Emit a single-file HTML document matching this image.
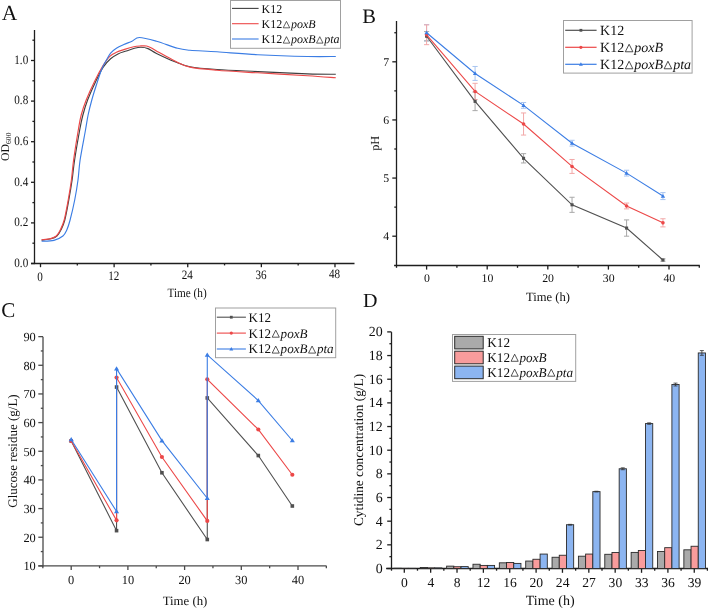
<!DOCTYPE html>
<html><head><meta charset="utf-8"><style>
html,body{margin:0;padding:0;background:#fff;}
svg{display:block;font-family:"Liberation Serif", serif;filter:blur(0.3px);}
text{text-rendering:geometricPrecision;}
</style></head><body>
<svg width="708" height="608" viewBox="0 0 708 608">
<rect x="0" y="0" width="708" height="608" fill="#fff"/>
<text x="1.80" y="19.80" font-size="21.5" text-anchor="start" fill="#111" >A</text>
<line x1="34.50" y1="30.00" x2="34.50" y2="264.10" stroke="#1e1e1e" stroke-width="1.3" stroke-linecap="butt"/>
<line x1="31.00" y1="263.50" x2="354.50" y2="263.50" stroke="#1e1e1e" stroke-width="1.3" stroke-linecap="butt"/>
<line x1="31.00" y1="263.50" x2="34.50" y2="263.50" stroke="#1e1e1e" stroke-width="1.3" stroke-linecap="butt"/>
<text transform="translate(28.20,266.70) scale(0.87,1)" x="0" y="0" font-size="12.8" text-anchor="end" fill="#111" >0.0</text>
<line x1="31.00" y1="222.90" x2="34.50" y2="222.90" stroke="#1e1e1e" stroke-width="1.3" stroke-linecap="butt"/>
<text transform="translate(28.20,226.10) scale(0.87,1)" x="0" y="0" font-size="12.8" text-anchor="end" fill="#111" >0.2</text>
<line x1="31.00" y1="182.30" x2="34.50" y2="182.30" stroke="#1e1e1e" stroke-width="1.3" stroke-linecap="butt"/>
<text transform="translate(28.20,185.50) scale(0.87,1)" x="0" y="0" font-size="12.8" text-anchor="end" fill="#111" >0.4</text>
<line x1="31.00" y1="141.70" x2="34.50" y2="141.70" stroke="#1e1e1e" stroke-width="1.3" stroke-linecap="butt"/>
<text transform="translate(28.20,144.90) scale(0.87,1)" x="0" y="0" font-size="12.8" text-anchor="end" fill="#111" >0.6</text>
<line x1="31.00" y1="101.10" x2="34.50" y2="101.10" stroke="#1e1e1e" stroke-width="1.3" stroke-linecap="butt"/>
<text transform="translate(28.20,104.30) scale(0.87,1)" x="0" y="0" font-size="12.8" text-anchor="end" fill="#111" >0.8</text>
<line x1="31.00" y1="60.50" x2="34.50" y2="60.50" stroke="#1e1e1e" stroke-width="1.3" stroke-linecap="butt"/>
<text transform="translate(28.20,63.70) scale(0.87,1)" x="0" y="0" font-size="12.8" text-anchor="end" fill="#111" >1.0</text>
<line x1="32.40" y1="243.20" x2="34.50" y2="243.20" stroke="#1e1e1e" stroke-width="1.3" stroke-linecap="butt"/>
<line x1="32.40" y1="202.60" x2="34.50" y2="202.60" stroke="#1e1e1e" stroke-width="1.3" stroke-linecap="butt"/>
<line x1="32.40" y1="162.00" x2="34.50" y2="162.00" stroke="#1e1e1e" stroke-width="1.3" stroke-linecap="butt"/>
<line x1="32.40" y1="121.40" x2="34.50" y2="121.40" stroke="#1e1e1e" stroke-width="1.3" stroke-linecap="butt"/>
<line x1="32.40" y1="80.80" x2="34.50" y2="80.80" stroke="#1e1e1e" stroke-width="1.3" stroke-linecap="butt"/>
<line x1="32.40" y1="40.20" x2="34.50" y2="40.20" stroke="#1e1e1e" stroke-width="1.3" stroke-linecap="butt"/>
<line x1="40.50" y1="263.50" x2="40.50" y2="267.20" stroke="#1e1e1e" stroke-width="1.3" stroke-linecap="butt"/>
<text transform="translate(40.10,280.60) scale(0.87,1)" x="0" y="0" font-size="12.8" text-anchor="middle" fill="#111" >0</text>
<line x1="114.12" y1="263.50" x2="114.12" y2="267.20" stroke="#1e1e1e" stroke-width="1.3" stroke-linecap="butt"/>
<text transform="translate(113.72,279.93) scale(0.87,1)" x="0" y="0" font-size="12.8" text-anchor="middle" fill="#111" >12</text>
<line x1="187.74" y1="263.50" x2="187.74" y2="267.20" stroke="#1e1e1e" stroke-width="1.3" stroke-linecap="butt"/>
<text transform="translate(187.34,279.25) scale(0.87,1)" x="0" y="0" font-size="12.8" text-anchor="middle" fill="#111" >24</text>
<line x1="261.36" y1="263.50" x2="261.36" y2="267.20" stroke="#1e1e1e" stroke-width="1.3" stroke-linecap="butt"/>
<text transform="translate(260.96,278.58) scale(0.87,1)" x="0" y="0" font-size="12.8" text-anchor="middle" fill="#111" >36</text>
<line x1="334.98" y1="263.50" x2="334.98" y2="267.20" stroke="#1e1e1e" stroke-width="1.3" stroke-linecap="butt"/>
<text transform="translate(334.58,277.90) scale(0.87,1)" x="0" y="0" font-size="12.8" text-anchor="middle" fill="#111" >48</text>
<line x1="77.31" y1="263.50" x2="77.31" y2="265.40" stroke="#1e1e1e" stroke-width="1.3" stroke-linecap="butt"/>
<line x1="150.93" y1="263.50" x2="150.93" y2="265.40" stroke="#1e1e1e" stroke-width="1.3" stroke-linecap="butt"/>
<line x1="224.55" y1="263.50" x2="224.55" y2="265.40" stroke="#1e1e1e" stroke-width="1.3" stroke-linecap="butt"/>
<line x1="298.17" y1="263.50" x2="298.17" y2="265.40" stroke="#1e1e1e" stroke-width="1.3" stroke-linecap="butt"/>
<text transform="translate(187.10,296.60) scale(0.88,1)" x="0" y="0" font-size="12.8" text-anchor="middle" fill="#111" >Time (h)</text>
<g transform="translate(9.0,161) rotate(-90)"><text x="0" y="0" font-size="11.8" fill="#111">OD<tspan font-size="7.6" dy="1.9">600</tspan></text></g>
<path d="M41.60,240.10 C43.17,239.88 48.45,239.48 51.00,238.80 C53.55,238.12 55.25,237.47 56.90,236.00 C58.55,234.53 59.58,232.67 60.90,230.00 C62.22,227.33 63.48,225.00 64.80,220.00 C66.12,215.00 67.58,206.67 68.80,200.00 C70.02,193.33 71.13,186.67 72.10,180.00 C73.07,173.33 73.33,168.33 74.60,160.00 C75.87,151.67 78.32,137.50 79.70,130.00 C81.08,122.50 81.58,120.00 82.90,115.00 C84.22,110.00 85.50,105.52 87.60,100.00 C89.70,94.48 92.90,87.38 95.50,81.90 C98.10,76.42 100.68,70.95 103.20,67.10 C105.72,63.25 108.13,61.00 110.60,58.80 C113.07,56.60 115.38,55.20 118.00,53.90 C120.62,52.60 123.55,51.93 126.30,51.00 C129.05,50.07 132.05,48.92 134.50,48.30 C136.95,47.68 138.75,47.25 141.00,47.30 C143.25,47.35 145.42,47.58 148.00,48.60 C150.58,49.62 152.02,51.22 156.50,53.40 C160.98,55.58 169.32,59.48 174.90,61.70 C180.48,63.92 182.98,65.40 190.00,66.70 C197.02,68.00 205.70,68.68 217.00,69.50 C228.30,70.32 242.72,70.87 257.80,71.60 C272.88,72.33 294.50,73.45 307.50,73.90 C320.50,74.35 331.08,74.23 335.80,74.30" fill="none" stroke="#404040" stroke-width="1.15"/>
<path d="M41.60,239.90 C43.12,239.68 48.25,239.25 50.70,238.60 C53.15,237.95 54.70,237.43 56.30,236.00 C57.90,234.57 58.98,232.67 60.30,230.00 C61.62,227.33 62.88,225.00 64.20,220.00 C65.52,215.00 67.00,206.67 68.20,200.00 C69.40,193.33 70.50,186.67 71.40,180.00 C72.30,173.33 72.45,168.33 73.60,160.00 C74.75,151.67 77.03,137.50 78.30,130.00 C79.57,122.50 79.88,120.00 81.20,115.00 C82.52,110.00 83.90,105.75 86.20,100.00 C88.50,94.25 92.17,86.27 95.00,80.50 C97.83,74.73 100.73,69.42 103.20,65.40 C105.67,61.38 107.60,58.58 109.80,56.40 C112.00,54.22 113.93,53.47 116.40,52.30 C118.87,51.13 121.72,50.32 124.60,49.40 C127.48,48.48 131.13,47.37 133.70,46.80 C136.27,46.23 137.85,46.13 140.00,46.00 C142.15,45.87 144.60,45.63 146.60,46.00 C148.60,46.37 149.88,47.10 152.00,48.20 C154.12,49.30 155.48,50.47 159.30,52.60 C163.12,54.73 169.78,58.58 174.90,61.00 C180.02,63.42 182.98,65.57 190.00,67.10 C197.02,68.63 205.70,69.25 217.00,70.20 C228.30,71.15 242.72,71.88 257.80,72.80 C272.88,73.72 294.50,74.88 307.50,75.70 C320.50,76.52 331.08,77.37 335.80,77.70" fill="none" stroke="#ec4848" stroke-width="1.15"/>
<path d="M41.60,241.20 C43.65,241.07 50.35,241.27 53.90,240.40 C57.45,239.53 60.75,237.73 62.90,236.00 C65.05,234.27 65.60,232.67 66.80,230.00 C68.00,227.33 68.78,225.00 70.10,220.00 C71.42,215.00 73.38,206.67 74.70,200.00 C76.02,193.33 77.10,186.67 78.00,180.00 C78.90,173.33 78.85,168.33 80.10,160.00 C81.35,151.67 84.17,137.50 85.50,130.00 C86.83,122.50 87.05,120.00 88.10,115.00 C89.15,110.00 90.38,105.12 91.80,100.00 C93.22,94.88 94.97,89.38 96.60,84.30 C98.23,79.22 100.08,73.33 101.60,69.50 C103.12,65.67 104.20,64.03 105.70,61.30 C107.20,58.57 108.82,55.28 110.60,53.10 C112.38,50.92 114.20,49.63 116.40,48.20 C118.60,46.77 121.20,45.67 123.80,44.50 C126.40,43.33 129.40,42.37 132.00,41.20 C134.60,40.03 135.32,37.50 139.40,37.50 C143.48,37.50 150.12,39.40 156.50,41.20 C162.88,43.00 172.12,46.80 177.70,48.30 C183.28,49.80 183.45,49.62 190.00,50.20 C196.55,50.78 205.70,51.05 217.00,51.80 C228.30,52.55 242.72,53.92 257.80,54.70 C272.88,55.48 294.50,56.20 307.50,56.50 C320.50,56.80 331.08,56.50 335.80,56.50" fill="none" stroke="#3b7de4" stroke-width="1.15"/>
<rect x="230.5" y="0.5" width="110" height="47.8" fill="none" stroke="#a0a0a0" stroke-width="1"/>
<line x1="232.00" y1="8.40" x2="258.60" y2="8.40" stroke="#404040" stroke-width="1.1" stroke-linecap="butt"/>
<text x="261.60" y="12.80" font-size="12.0" text-anchor="start" fill="#111" >K12</text>
<line x1="232.00" y1="23.70" x2="258.60" y2="23.70" stroke="#ec4848" stroke-width="1.1" stroke-linecap="butt"/>
<text x="261.60" y="28.10" font-size="12.0" text-anchor="start" fill="#111" >K12</text>
<path d="M283.21,27.82 L286.46,21.38 L289.72,27.82 Z" fill="none" stroke="#222" stroke-width="0.70" stroke-linejoin="miter"/>
<text x="290.90" y="28.10" font-size="12.0" text-anchor="start" fill="#111" font-style="italic">poxB</text>
<line x1="232.00" y1="39.00" x2="258.60" y2="39.00" stroke="#3b7de4" stroke-width="1.1" stroke-linecap="butt"/>
<text x="261.60" y="43.40" font-size="12.0" text-anchor="start" fill="#111" >K12</text>
<path d="M283.21,43.12 L286.46,36.68 L289.72,43.12 Z" fill="none" stroke="#222" stroke-width="0.70" stroke-linejoin="miter"/>
<text x="290.90" y="43.40" font-size="12.0" text-anchor="start" fill="#111" font-style="italic">poxB</text>
<path d="M316.51,43.12 L319.76,36.68 L323.01,43.12 Z" fill="none" stroke="#222" stroke-width="0.70" stroke-linejoin="miter"/>
<text x="324.20" y="43.40" font-size="12.0" text-anchor="start" fill="#111" font-style="italic">pta</text>
<text x="362.30" y="23.20" font-size="20.5" text-anchor="start" fill="#111" >B</text>
<line x1="396.50" y1="21.00" x2="396.50" y2="267.80" stroke="#1e1e1e" stroke-width="1.3" stroke-linecap="butt"/>
<line x1="394.10" y1="265.50" x2="699.80" y2="265.50" stroke="#1e1e1e" stroke-width="1.3" stroke-linecap="butt"/>
<line x1="392.30" y1="236.20" x2="396.50" y2="236.20" stroke="#1e1e1e" stroke-width="1.3" stroke-linecap="butt"/>
<text x="389.20" y="240.20" font-size="11.8" text-anchor="end" fill="#111" >4</text>
<line x1="392.30" y1="178.07" x2="396.50" y2="178.07" stroke="#1e1e1e" stroke-width="1.3" stroke-linecap="butt"/>
<text x="389.20" y="182.07" font-size="11.8" text-anchor="end" fill="#111" >5</text>
<line x1="392.30" y1="119.94" x2="396.50" y2="119.94" stroke="#1e1e1e" stroke-width="1.3" stroke-linecap="butt"/>
<text x="389.20" y="123.94" font-size="11.8" text-anchor="end" fill="#111" >6</text>
<line x1="392.30" y1="61.81" x2="396.50" y2="61.81" stroke="#1e1e1e" stroke-width="1.3" stroke-linecap="butt"/>
<text x="389.20" y="65.81" font-size="11.8" text-anchor="end" fill="#111" >7</text>
<line x1="394.30" y1="207.13" x2="396.50" y2="207.13" stroke="#1e1e1e" stroke-width="1.3" stroke-linecap="butt"/>
<line x1="394.30" y1="149.00" x2="396.50" y2="149.00" stroke="#1e1e1e" stroke-width="1.3" stroke-linecap="butt"/>
<line x1="394.30" y1="90.87" x2="396.50" y2="90.87" stroke="#1e1e1e" stroke-width="1.3" stroke-linecap="butt"/>
<line x1="394.30" y1="32.74" x2="396.50" y2="32.74" stroke="#1e1e1e" stroke-width="1.3" stroke-linecap="butt"/>
<line x1="426.60" y1="265.50" x2="426.60" y2="269.60" stroke="#1e1e1e" stroke-width="1.3" stroke-linecap="butt"/>
<text x="426.90" y="282.00" font-size="11.8" text-anchor="middle" fill="#111" >0</text>
<line x1="487.20" y1="265.50" x2="487.20" y2="269.60" stroke="#1e1e1e" stroke-width="1.3" stroke-linecap="butt"/>
<text x="487.50" y="282.00" font-size="11.8" text-anchor="middle" fill="#111" >10</text>
<line x1="547.80" y1="265.50" x2="547.80" y2="269.60" stroke="#1e1e1e" stroke-width="1.3" stroke-linecap="butt"/>
<text x="548.10" y="282.00" font-size="11.8" text-anchor="middle" fill="#111" >20</text>
<line x1="608.40" y1="265.50" x2="608.40" y2="269.60" stroke="#1e1e1e" stroke-width="1.3" stroke-linecap="butt"/>
<text x="608.70" y="282.00" font-size="11.8" text-anchor="middle" fill="#111" >30</text>
<line x1="669.00" y1="265.50" x2="669.00" y2="269.60" stroke="#1e1e1e" stroke-width="1.3" stroke-linecap="butt"/>
<text x="669.30" y="282.00" font-size="11.8" text-anchor="middle" fill="#111" >40</text>
<line x1="456.90" y1="265.50" x2="456.90" y2="267.80" stroke="#1e1e1e" stroke-width="1.3" stroke-linecap="butt"/>
<line x1="517.50" y1="265.50" x2="517.50" y2="267.80" stroke="#1e1e1e" stroke-width="1.3" stroke-linecap="butt"/>
<line x1="578.10" y1="265.50" x2="578.10" y2="267.80" stroke="#1e1e1e" stroke-width="1.3" stroke-linecap="butt"/>
<line x1="638.70" y1="265.50" x2="638.70" y2="267.80" stroke="#1e1e1e" stroke-width="1.3" stroke-linecap="butt"/>
<line x1="699.30" y1="265.50" x2="699.30" y2="267.80" stroke="#1e1e1e" stroke-width="1.3" stroke-linecap="butt"/>
<text x="548.00" y="301.40" font-size="12.6" text-anchor="middle" fill="#111" >Time (h)</text>
<g transform="translate(379.3,143.3) rotate(-90)"><text x="0" y="0" font-size="12.3" text-anchor="middle" fill="#111">pH</text></g>
<line x1="426.60" y1="24.61" x2="426.60" y2="40.88" stroke="#a8c4f0" stroke-width="1.0" stroke-linecap="butt"/>
<line x1="424.00" y1="24.61" x2="429.20" y2="24.61" stroke="#a8c4f0" stroke-width="1.0" stroke-linecap="butt"/>
<line x1="424.00" y1="40.88" x2="429.20" y2="40.88" stroke="#a8c4f0" stroke-width="1.0" stroke-linecap="butt"/>
<line x1="475.08" y1="66.46" x2="475.08" y2="80.41" stroke="#a8c4f0" stroke-width="1.0" stroke-linecap="butt"/>
<line x1="472.48" y1="66.46" x2="477.68" y2="66.46" stroke="#a8c4f0" stroke-width="1.0" stroke-linecap="butt"/>
<line x1="472.48" y1="80.41" x2="477.68" y2="80.41" stroke="#a8c4f0" stroke-width="1.0" stroke-linecap="butt"/>
<line x1="523.56" y1="102.50" x2="523.56" y2="108.31" stroke="#a8c4f0" stroke-width="1.0" stroke-linecap="butt"/>
<line x1="520.96" y1="102.50" x2="526.16" y2="102.50" stroke="#a8c4f0" stroke-width="1.0" stroke-linecap="butt"/>
<line x1="520.96" y1="108.31" x2="526.16" y2="108.31" stroke="#a8c4f0" stroke-width="1.0" stroke-linecap="butt"/>
<line x1="572.04" y1="140.29" x2="572.04" y2="146.10" stroke="#a8c4f0" stroke-width="1.0" stroke-linecap="butt"/>
<line x1="569.44" y1="140.29" x2="574.64" y2="140.29" stroke="#a8c4f0" stroke-width="1.0" stroke-linecap="butt"/>
<line x1="569.44" y1="146.10" x2="574.64" y2="146.10" stroke="#a8c4f0" stroke-width="1.0" stroke-linecap="butt"/>
<line x1="626.58" y1="170.22" x2="626.58" y2="176.04" stroke="#a8c4f0" stroke-width="1.0" stroke-linecap="butt"/>
<line x1="623.98" y1="170.22" x2="629.18" y2="170.22" stroke="#a8c4f0" stroke-width="1.0" stroke-linecap="butt"/>
<line x1="623.98" y1="176.04" x2="629.18" y2="176.04" stroke="#a8c4f0" stroke-width="1.0" stroke-linecap="butt"/>
<line x1="662.94" y1="192.60" x2="662.94" y2="199.58" stroke="#a8c4f0" stroke-width="1.0" stroke-linecap="butt"/>
<line x1="660.34" y1="192.60" x2="665.54" y2="192.60" stroke="#a8c4f0" stroke-width="1.0" stroke-linecap="butt"/>
<line x1="660.34" y1="199.58" x2="665.54" y2="199.58" stroke="#a8c4f0" stroke-width="1.0" stroke-linecap="butt"/>
<line x1="426.60" y1="31.58" x2="426.60" y2="40.88" stroke="#a8a8a8" stroke-width="1.0" stroke-linecap="butt"/>
<line x1="424.00" y1="31.58" x2="429.20" y2="31.58" stroke="#a8a8a8" stroke-width="1.0" stroke-linecap="butt"/>
<line x1="424.00" y1="40.88" x2="429.20" y2="40.88" stroke="#a8a8a8" stroke-width="1.0" stroke-linecap="butt"/>
<line x1="475.08" y1="92.04" x2="475.08" y2="110.64" stroke="#a8a8a8" stroke-width="1.0" stroke-linecap="butt"/>
<line x1="472.48" y1="92.04" x2="477.68" y2="92.04" stroke="#a8a8a8" stroke-width="1.0" stroke-linecap="butt"/>
<line x1="472.48" y1="110.64" x2="477.68" y2="110.64" stroke="#a8a8a8" stroke-width="1.0" stroke-linecap="butt"/>
<line x1="523.56" y1="153.66" x2="523.56" y2="162.96" stroke="#a8a8a8" stroke-width="1.0" stroke-linecap="butt"/>
<line x1="520.96" y1="153.66" x2="526.16" y2="153.66" stroke="#a8a8a8" stroke-width="1.0" stroke-linecap="butt"/>
<line x1="520.96" y1="162.96" x2="526.16" y2="162.96" stroke="#a8a8a8" stroke-width="1.0" stroke-linecap="butt"/>
<line x1="572.04" y1="197.25" x2="572.04" y2="212.37" stroke="#a8a8a8" stroke-width="1.0" stroke-linecap="butt"/>
<line x1="569.44" y1="197.25" x2="574.64" y2="197.25" stroke="#a8a8a8" stroke-width="1.0" stroke-linecap="butt"/>
<line x1="569.44" y1="212.37" x2="574.64" y2="212.37" stroke="#a8a8a8" stroke-width="1.0" stroke-linecap="butt"/>
<line x1="626.58" y1="219.92" x2="626.58" y2="236.20" stroke="#a8a8a8" stroke-width="1.0" stroke-linecap="butt"/>
<line x1="623.98" y1="219.92" x2="629.18" y2="219.92" stroke="#a8a8a8" stroke-width="1.0" stroke-linecap="butt"/>
<line x1="623.98" y1="236.20" x2="629.18" y2="236.20" stroke="#a8a8a8" stroke-width="1.0" stroke-linecap="butt"/>
<line x1="662.94" y1="258.87" x2="662.94" y2="261.20" stroke="#a8a8a8" stroke-width="1.0" stroke-linecap="butt"/>
<line x1="660.34" y1="258.87" x2="665.54" y2="258.87" stroke="#a8a8a8" stroke-width="1.0" stroke-linecap="butt"/>
<line x1="660.34" y1="261.20" x2="665.54" y2="261.20" stroke="#a8a8a8" stroke-width="1.0" stroke-linecap="butt"/>
<line x1="426.60" y1="24.90" x2="426.60" y2="44.66" stroke="#f2a8a8" stroke-width="1.0" stroke-linecap="butt"/>
<line x1="424.00" y1="24.90" x2="429.20" y2="24.90" stroke="#f2a8a8" stroke-width="1.0" stroke-linecap="butt"/>
<line x1="424.00" y1="44.66" x2="429.20" y2="44.66" stroke="#f2a8a8" stroke-width="1.0" stroke-linecap="butt"/>
<line x1="475.08" y1="83.32" x2="475.08" y2="99.59" stroke="#f2a8a8" stroke-width="1.0" stroke-linecap="butt"/>
<line x1="472.48" y1="83.32" x2="477.68" y2="83.32" stroke="#f2a8a8" stroke-width="1.0" stroke-linecap="butt"/>
<line x1="472.48" y1="99.59" x2="477.68" y2="99.59" stroke="#f2a8a8" stroke-width="1.0" stroke-linecap="butt"/>
<line x1="523.56" y1="112.96" x2="523.56" y2="135.05" stroke="#f2a8a8" stroke-width="1.0" stroke-linecap="butt"/>
<line x1="520.96" y1="112.96" x2="526.16" y2="112.96" stroke="#f2a8a8" stroke-width="1.0" stroke-linecap="butt"/>
<line x1="520.96" y1="135.05" x2="526.16" y2="135.05" stroke="#f2a8a8" stroke-width="1.0" stroke-linecap="butt"/>
<line x1="572.04" y1="159.47" x2="572.04" y2="173.42" stroke="#f2a8a8" stroke-width="1.0" stroke-linecap="butt"/>
<line x1="569.44" y1="159.47" x2="574.64" y2="159.47" stroke="#f2a8a8" stroke-width="1.0" stroke-linecap="butt"/>
<line x1="569.44" y1="173.42" x2="574.64" y2="173.42" stroke="#f2a8a8" stroke-width="1.0" stroke-linecap="butt"/>
<line x1="626.58" y1="203.07" x2="626.58" y2="208.88" stroke="#f2a8a8" stroke-width="1.0" stroke-linecap="butt"/>
<line x1="623.98" y1="203.07" x2="629.18" y2="203.07" stroke="#f2a8a8" stroke-width="1.0" stroke-linecap="butt"/>
<line x1="623.98" y1="208.88" x2="629.18" y2="208.88" stroke="#f2a8a8" stroke-width="1.0" stroke-linecap="butt"/>
<line x1="662.94" y1="218.76" x2="662.94" y2="226.90" stroke="#f2a8a8" stroke-width="1.0" stroke-linecap="butt"/>
<line x1="660.34" y1="218.76" x2="665.54" y2="218.76" stroke="#f2a8a8" stroke-width="1.0" stroke-linecap="butt"/>
<line x1="660.34" y1="226.90" x2="665.54" y2="226.90" stroke="#f2a8a8" stroke-width="1.0" stroke-linecap="butt"/>
<polyline points="426.60,36.23 475.08,101.34 523.56,158.31 572.04,204.81 626.58,228.06 662.94,260.03" fill="none" stroke="#505050" stroke-width="1.1"/>
<rect x="425.05" y="34.68" width="3.10" height="3.10" fill="#505050"/>
<rect x="473.53" y="99.79" width="3.10" height="3.10" fill="#505050"/>
<rect x="522.01" y="156.76" width="3.10" height="3.10" fill="#505050"/>
<rect x="570.49" y="203.26" width="3.10" height="3.10" fill="#505050"/>
<rect x="625.03" y="226.51" width="3.10" height="3.10" fill="#505050"/>
<rect x="661.39" y="258.48" width="3.10" height="3.10" fill="#505050"/>
<polyline points="426.60,34.78 475.08,91.46 523.56,124.01 572.04,166.44 626.58,205.97 662.94,222.83" fill="none" stroke="#ec4848" stroke-width="1.1"/>
<circle cx="426.60" cy="34.78" r="1.80" fill="#ec4848"/>
<circle cx="475.08" cy="91.46" r="1.80" fill="#ec4848"/>
<circle cx="523.56" cy="124.01" r="1.80" fill="#ec4848"/>
<circle cx="572.04" cy="166.44" r="1.80" fill="#ec4848"/>
<circle cx="626.58" cy="205.97" r="1.80" fill="#ec4848"/>
<circle cx="662.94" cy="222.83" r="1.80" fill="#ec4848"/>
<polyline points="426.60,32.74 475.08,73.44 523.56,105.41 572.04,143.19 626.58,173.13 662.94,196.09" fill="none" stroke="#3b7de4" stroke-width="1.1"/>
<path d="M424.43,34.31 L426.60,30.57 L428.77,34.31 Z" fill="#3b7de4"/>
<path d="M472.91,75.00 L475.08,71.27 L477.25,75.00 Z" fill="#3b7de4"/>
<path d="M521.39,106.97 L523.56,103.24 L525.73,106.97 Z" fill="#3b7de4"/>
<path d="M569.87,144.75 L572.04,141.02 L574.21,144.75 Z" fill="#3b7de4"/>
<path d="M624.41,174.69 L626.58,170.96 L628.75,174.69 Z" fill="#3b7de4"/>
<path d="M660.77,197.65 L662.94,193.92 L665.11,197.65 Z" fill="#3b7de4"/>
<rect x="563.5" y="20.5" width="128.6" height="52.6" fill="none" stroke="#a0a0a0" stroke-width="1"/>
<line x1="565.20" y1="30.30" x2="596.60" y2="30.30" stroke="#505050" stroke-width="1.2" stroke-linecap="butt"/>
<rect x="579.50" y="28.90" width="2.80" height="2.80" fill="#505050"/>
<text x="600.10" y="35.10" font-size="14.0" text-anchor="start" fill="#111" >K12</text>
<line x1="565.20" y1="47.30" x2="596.60" y2="47.30" stroke="#ec4848" stroke-width="1.2" stroke-linecap="butt"/>
<circle cx="580.90" cy="47.30" r="1.62" fill="#ec4848"/>
<text x="600.10" y="52.10" font-size="14.0" text-anchor="start" fill="#111" >K12</text>
<path d="M625.31,51.78 L629.11,44.26 L632.90,51.78 Z" fill="none" stroke="#222" stroke-width="0.81" stroke-linejoin="miter"/>
<text x="634.29" y="52.10" font-size="14.0" text-anchor="start" fill="#111" font-style="italic">poxB</text>
<line x1="565.20" y1="64.30" x2="596.60" y2="64.30" stroke="#3b7de4" stroke-width="1.2" stroke-linecap="butt"/>
<path d="M578.94,65.71 L580.90,62.34 L582.86,65.71 Z" fill="#3b7de4"/>
<text x="600.10" y="69.10" font-size="14.0" text-anchor="start" fill="#111" >K12</text>
<path d="M625.31,68.78 L629.11,61.26 L632.90,68.78 Z" fill="none" stroke="#222" stroke-width="0.81" stroke-linejoin="miter"/>
<text x="634.29" y="69.10" font-size="14.0" text-anchor="start" fill="#111" font-style="italic">poxB</text>
<path d="M664.16,68.78 L667.95,61.26 L671.75,68.78 Z" fill="none" stroke="#222" stroke-width="0.81" stroke-linejoin="miter"/>
<text x="673.13" y="69.10" font-size="14.0" text-anchor="start" fill="#111" font-style="italic">pta</text>
<text x="1.30" y="317.20" font-size="21" text-anchor="start" fill="#111" >C</text>
<line x1="43.00" y1="336.70" x2="43.00" y2="566.60" stroke="#4a4a4a" stroke-width="1.3" stroke-linecap="butt"/>
<line x1="38.30" y1="565.90" x2="326.60" y2="565.90" stroke="#4a4a4a" stroke-width="1.3" stroke-linecap="butt"/>
<line x1="38.30" y1="565.90" x2="43.00" y2="565.90" stroke="#4a4a4a" stroke-width="1.3" stroke-linecap="butt"/>
<text x="35.80" y="570.20" font-size="12.4" text-anchor="end" fill="#111" >10</text>
<line x1="38.30" y1="537.24" x2="43.00" y2="537.24" stroke="#4a4a4a" stroke-width="1.3" stroke-linecap="butt"/>
<text x="35.80" y="541.54" font-size="12.4" text-anchor="end" fill="#111" >20</text>
<line x1="38.30" y1="508.58" x2="43.00" y2="508.58" stroke="#4a4a4a" stroke-width="1.3" stroke-linecap="butt"/>
<text x="35.80" y="512.88" font-size="12.4" text-anchor="end" fill="#111" >30</text>
<line x1="38.30" y1="479.92" x2="43.00" y2="479.92" stroke="#4a4a4a" stroke-width="1.3" stroke-linecap="butt"/>
<text x="35.80" y="484.22" font-size="12.4" text-anchor="end" fill="#111" >40</text>
<line x1="38.30" y1="451.26" x2="43.00" y2="451.26" stroke="#4a4a4a" stroke-width="1.3" stroke-linecap="butt"/>
<text x="35.80" y="455.56" font-size="12.4" text-anchor="end" fill="#111" >50</text>
<line x1="38.30" y1="422.60" x2="43.00" y2="422.60" stroke="#4a4a4a" stroke-width="1.3" stroke-linecap="butt"/>
<text x="35.80" y="426.90" font-size="12.4" text-anchor="end" fill="#111" >60</text>
<line x1="38.30" y1="393.94" x2="43.00" y2="393.94" stroke="#4a4a4a" stroke-width="1.3" stroke-linecap="butt"/>
<text x="35.80" y="398.24" font-size="12.4" text-anchor="end" fill="#111" >70</text>
<line x1="38.30" y1="365.28" x2="43.00" y2="365.28" stroke="#4a4a4a" stroke-width="1.3" stroke-linecap="butt"/>
<text x="35.80" y="369.58" font-size="12.4" text-anchor="end" fill="#111" >80</text>
<line x1="38.30" y1="336.62" x2="43.00" y2="336.62" stroke="#4a4a4a" stroke-width="1.3" stroke-linecap="butt"/>
<text x="35.80" y="340.92" font-size="12.4" text-anchor="end" fill="#111" >90</text>
<line x1="40.80" y1="551.57" x2="43.00" y2="551.57" stroke="#4a4a4a" stroke-width="1.3" stroke-linecap="butt"/>
<line x1="40.80" y1="522.91" x2="43.00" y2="522.91" stroke="#4a4a4a" stroke-width="1.3" stroke-linecap="butt"/>
<line x1="40.80" y1="494.25" x2="43.00" y2="494.25" stroke="#4a4a4a" stroke-width="1.3" stroke-linecap="butt"/>
<line x1="40.80" y1="465.59" x2="43.00" y2="465.59" stroke="#4a4a4a" stroke-width="1.3" stroke-linecap="butt"/>
<line x1="40.80" y1="436.93" x2="43.00" y2="436.93" stroke="#4a4a4a" stroke-width="1.3" stroke-linecap="butt"/>
<line x1="40.80" y1="408.27" x2="43.00" y2="408.27" stroke="#4a4a4a" stroke-width="1.3" stroke-linecap="butt"/>
<line x1="40.80" y1="379.61" x2="43.00" y2="379.61" stroke="#4a4a4a" stroke-width="1.3" stroke-linecap="butt"/>
<line x1="40.80" y1="350.95" x2="43.00" y2="350.95" stroke="#4a4a4a" stroke-width="1.3" stroke-linecap="butt"/>
<line x1="71.20" y1="565.90" x2="71.20" y2="570.00" stroke="#4a4a4a" stroke-width="1.3" stroke-linecap="butt"/>
<text x="71.20" y="583.80" font-size="12.4" text-anchor="middle" fill="#111" >0</text>
<line x1="127.90" y1="565.90" x2="127.90" y2="570.00" stroke="#4a4a4a" stroke-width="1.3" stroke-linecap="butt"/>
<text x="127.90" y="583.80" font-size="12.4" text-anchor="middle" fill="#111" >10</text>
<line x1="184.60" y1="565.90" x2="184.60" y2="570.00" stroke="#4a4a4a" stroke-width="1.3" stroke-linecap="butt"/>
<text x="184.60" y="583.80" font-size="12.4" text-anchor="middle" fill="#111" >20</text>
<line x1="241.30" y1="565.90" x2="241.30" y2="570.00" stroke="#4a4a4a" stroke-width="1.3" stroke-linecap="butt"/>
<text x="241.30" y="583.80" font-size="12.4" text-anchor="middle" fill="#111" >30</text>
<line x1="298.00" y1="565.90" x2="298.00" y2="570.00" stroke="#4a4a4a" stroke-width="1.3" stroke-linecap="butt"/>
<text x="298.00" y="583.80" font-size="12.4" text-anchor="middle" fill="#111" >40</text>
<line x1="42.85" y1="565.90" x2="42.85" y2="568.20" stroke="#4a4a4a" stroke-width="1.3" stroke-linecap="butt"/>
<line x1="99.55" y1="565.90" x2="99.55" y2="568.20" stroke="#4a4a4a" stroke-width="1.3" stroke-linecap="butt"/>
<line x1="156.25" y1="565.90" x2="156.25" y2="568.20" stroke="#4a4a4a" stroke-width="1.3" stroke-linecap="butt"/>
<line x1="212.95" y1="565.90" x2="212.95" y2="568.20" stroke="#4a4a4a" stroke-width="1.3" stroke-linecap="butt"/>
<line x1="269.65" y1="565.90" x2="269.65" y2="568.20" stroke="#4a4a4a" stroke-width="1.3" stroke-linecap="butt"/>
<line x1="326.35" y1="565.90" x2="326.35" y2="568.20" stroke="#4a4a4a" stroke-width="1.3" stroke-linecap="butt"/>
<text x="185.00" y="604.60" font-size="12.8" text-anchor="middle" fill="#111" >Time (h)</text>
<g transform="translate(17.4,451) rotate(-90)"><text x="0" y="0" font-size="13" text-anchor="middle" fill="#111">Glucose residue (g/L)</text></g>
<polyline points="71.20,440.94 116.56,530.65 116.56,387.06 161.92,472.75 207.28,539.53 207.28,397.95 258.31,455.56 292.33,506.00" fill="none" stroke="#505050" stroke-width="1.1"/>
<rect x="69.40" y="439.14" width="3.60" height="3.60" fill="#505050"/>
<rect x="114.76" y="528.85" width="3.60" height="3.60" fill="#505050"/>
<rect x="114.76" y="385.26" width="3.60" height="3.60" fill="#505050"/>
<rect x="160.12" y="470.95" width="3.60" height="3.60" fill="#505050"/>
<rect x="205.48" y="537.73" width="3.60" height="3.60" fill="#505050"/>
<rect x="205.48" y="396.15" width="3.60" height="3.60" fill="#505050"/>
<rect x="256.51" y="453.76" width="3.60" height="3.60" fill="#505050"/>
<rect x="290.53" y="504.20" width="3.60" height="3.60" fill="#505050"/>
<polyline points="71.20,440.94 116.56,520.33 116.56,377.60 161.92,456.99 207.28,520.90 207.28,379.32 258.31,429.48 292.33,474.76" fill="none" stroke="#ec4848" stroke-width="1.1"/>
<circle cx="71.20" cy="440.94" r="2.09" fill="#ec4848"/>
<circle cx="116.56" cy="520.33" r="2.09" fill="#ec4848"/>
<circle cx="116.56" cy="377.60" r="2.09" fill="#ec4848"/>
<circle cx="161.92" cy="456.99" r="2.09" fill="#ec4848"/>
<circle cx="207.28" cy="520.90" r="2.09" fill="#ec4848"/>
<circle cx="207.28" cy="379.32" r="2.09" fill="#ec4848"/>
<circle cx="258.31" cy="429.48" r="2.09" fill="#ec4848"/>
<circle cx="292.33" cy="474.76" r="2.09" fill="#ec4848"/>
<polyline points="71.20,439.51 116.56,511.45 116.56,368.72 161.92,440.66 207.28,498.26 207.28,354.96 258.31,400.53 292.33,440.51" fill="none" stroke="#3b7de4" stroke-width="1.1"/>
<path d="M68.68,441.32 L71.20,436.99 L73.72,441.32 Z" fill="#3b7de4"/>
<path d="M114.04,513.26 L116.56,508.93 L119.08,513.26 Z" fill="#3b7de4"/>
<path d="M114.04,370.53 L116.56,366.20 L119.08,370.53 Z" fill="#3b7de4"/>
<path d="M159.40,442.47 L161.92,438.14 L164.44,442.47 Z" fill="#3b7de4"/>
<path d="M204.76,500.08 L207.28,495.74 L209.80,500.08 Z" fill="#3b7de4"/>
<path d="M204.76,356.78 L207.28,352.44 L209.80,356.78 Z" fill="#3b7de4"/>
<path d="M255.79,402.35 L258.31,398.01 L260.83,402.35 Z" fill="#3b7de4"/>
<path d="M289.81,442.33 L292.33,437.99 L294.85,442.33 Z" fill="#3b7de4"/>
<rect x="215.5" y="308.0" width="120.2" height="49.7" fill="none" stroke="#a0a0a0" stroke-width="1"/>
<line x1="216.80" y1="317.20" x2="245.90" y2="317.20" stroke="#505050" stroke-width="1.1" stroke-linecap="butt"/>
<rect x="229.90" y="315.80" width="2.80" height="2.80" fill="#505050"/>
<text x="248.60" y="321.60" font-size="13.1" text-anchor="start" fill="#111" >K12</text>
<line x1="216.80" y1="333.10" x2="245.90" y2="333.10" stroke="#ec4848" stroke-width="1.1" stroke-linecap="butt"/>
<circle cx="231.30" cy="333.10" r="1.62" fill="#ec4848"/>
<text x="248.60" y="337.50" font-size="13.1" text-anchor="start" fill="#111" >K12</text>
<path d="M272.19,337.20 L275.74,330.16 L279.29,337.20 Z" fill="none" stroke="#222" stroke-width="0.76" stroke-linejoin="miter"/>
<text x="280.59" y="337.50" font-size="13.1" text-anchor="start" fill="#111" font-style="italic">poxB</text>
<line x1="216.80" y1="349.00" x2="245.90" y2="349.00" stroke="#3b7de4" stroke-width="1.1" stroke-linecap="butt"/>
<path d="M229.34,350.41 L231.30,347.04 L233.26,350.41 Z" fill="#3b7de4"/>
<text x="248.60" y="353.40" font-size="13.1" text-anchor="start" fill="#111" >K12</text>
<path d="M272.19,353.10 L275.74,346.06 L279.29,353.10 Z" fill="none" stroke="#222" stroke-width="0.76" stroke-linejoin="miter"/>
<text x="280.59" y="353.40" font-size="13.1" text-anchor="start" fill="#111" font-style="italic">poxB</text>
<path d="M308.54,353.10 L312.09,346.06 L315.64,353.10 Z" fill="none" stroke="#222" stroke-width="0.76" stroke-linejoin="miter"/>
<text x="316.94" y="353.40" font-size="13.1" text-anchor="start" fill="#111" font-style="italic">pta</text>
<text x="363.00" y="307.20" font-size="20" text-anchor="start" fill="#111" >D</text>
<line x1="391.50" y1="332.10" x2="391.50" y2="570.70" stroke="#1e1e1e" stroke-width="1.3" stroke-linecap="butt"/>
<line x1="386.10" y1="568.50" x2="708.00" y2="568.50" stroke="#1e1e1e" stroke-width="1.3" stroke-linecap="butt"/>
<line x1="387.20" y1="568.50" x2="391.50" y2="568.50" stroke="#1e1e1e" stroke-width="1.3" stroke-linecap="butt"/>
<text x="382.70" y="573.00" font-size="13.9" text-anchor="end" fill="#111" >0</text>
<line x1="387.20" y1="544.84" x2="391.50" y2="544.84" stroke="#1e1e1e" stroke-width="1.3" stroke-linecap="butt"/>
<text x="382.70" y="549.34" font-size="13.9" text-anchor="end" fill="#111" >2</text>
<line x1="387.20" y1="521.18" x2="391.50" y2="521.18" stroke="#1e1e1e" stroke-width="1.3" stroke-linecap="butt"/>
<text x="382.70" y="525.68" font-size="13.9" text-anchor="end" fill="#111" >4</text>
<line x1="387.20" y1="497.52" x2="391.50" y2="497.52" stroke="#1e1e1e" stroke-width="1.3" stroke-linecap="butt"/>
<text x="382.70" y="502.02" font-size="13.9" text-anchor="end" fill="#111" >6</text>
<line x1="387.20" y1="473.86" x2="391.50" y2="473.86" stroke="#1e1e1e" stroke-width="1.3" stroke-linecap="butt"/>
<text x="382.70" y="478.36" font-size="13.9" text-anchor="end" fill="#111" >8</text>
<line x1="387.20" y1="450.20" x2="391.50" y2="450.20" stroke="#1e1e1e" stroke-width="1.3" stroke-linecap="butt"/>
<text x="382.70" y="454.70" font-size="13.9" text-anchor="end" fill="#111" >10</text>
<line x1="387.20" y1="426.54" x2="391.50" y2="426.54" stroke="#1e1e1e" stroke-width="1.3" stroke-linecap="butt"/>
<text x="382.70" y="431.04" font-size="13.9" text-anchor="end" fill="#111" >12</text>
<line x1="387.20" y1="402.88" x2="391.50" y2="402.88" stroke="#1e1e1e" stroke-width="1.3" stroke-linecap="butt"/>
<text x="382.70" y="407.38" font-size="13.9" text-anchor="end" fill="#111" >14</text>
<line x1="387.20" y1="379.22" x2="391.50" y2="379.22" stroke="#1e1e1e" stroke-width="1.3" stroke-linecap="butt"/>
<text x="382.70" y="383.72" font-size="13.9" text-anchor="end" fill="#111" >16</text>
<line x1="387.20" y1="355.56" x2="391.50" y2="355.56" stroke="#1e1e1e" stroke-width="1.3" stroke-linecap="butt"/>
<text x="382.70" y="360.06" font-size="13.9" text-anchor="end" fill="#111" >18</text>
<line x1="387.20" y1="331.90" x2="391.50" y2="331.90" stroke="#1e1e1e" stroke-width="1.3" stroke-linecap="butt"/>
<text x="382.70" y="336.40" font-size="13.9" text-anchor="end" fill="#111" >20</text>
<line x1="389.40" y1="556.67" x2="391.50" y2="556.67" stroke="#1e1e1e" stroke-width="1.3" stroke-linecap="butt"/>
<line x1="389.40" y1="533.01" x2="391.50" y2="533.01" stroke="#1e1e1e" stroke-width="1.3" stroke-linecap="butt"/>
<line x1="389.40" y1="509.35" x2="391.50" y2="509.35" stroke="#1e1e1e" stroke-width="1.3" stroke-linecap="butt"/>
<line x1="389.40" y1="485.69" x2="391.50" y2="485.69" stroke="#1e1e1e" stroke-width="1.3" stroke-linecap="butt"/>
<line x1="389.40" y1="462.03" x2="391.50" y2="462.03" stroke="#1e1e1e" stroke-width="1.3" stroke-linecap="butt"/>
<line x1="389.40" y1="438.37" x2="391.50" y2="438.37" stroke="#1e1e1e" stroke-width="1.3" stroke-linecap="butt"/>
<line x1="389.40" y1="414.71" x2="391.50" y2="414.71" stroke="#1e1e1e" stroke-width="1.3" stroke-linecap="butt"/>
<line x1="389.40" y1="391.05" x2="391.50" y2="391.05" stroke="#1e1e1e" stroke-width="1.3" stroke-linecap="butt"/>
<line x1="389.40" y1="367.39" x2="391.50" y2="367.39" stroke="#1e1e1e" stroke-width="1.3" stroke-linecap="butt"/>
<line x1="389.40" y1="343.73" x2="391.50" y2="343.73" stroke="#1e1e1e" stroke-width="1.3" stroke-linecap="butt"/>
<line x1="404.30" y1="568.50" x2="404.30" y2="572.80" stroke="#1e1e1e" stroke-width="1.3" stroke-linecap="butt"/>
<text x="404.50" y="586.90" font-size="13.6" text-anchor="middle" fill="#111" >0</text>
<line x1="430.66" y1="568.50" x2="430.66" y2="572.80" stroke="#1e1e1e" stroke-width="1.3" stroke-linecap="butt"/>
<text x="430.86" y="586.90" font-size="13.6" text-anchor="middle" fill="#111" >4</text>
<line x1="457.02" y1="568.50" x2="457.02" y2="572.80" stroke="#1e1e1e" stroke-width="1.3" stroke-linecap="butt"/>
<text x="457.22" y="586.90" font-size="13.6" text-anchor="middle" fill="#111" >8</text>
<line x1="483.38" y1="568.50" x2="483.38" y2="572.80" stroke="#1e1e1e" stroke-width="1.3" stroke-linecap="butt"/>
<text x="483.58" y="586.90" font-size="13.6" text-anchor="middle" fill="#111" >12</text>
<line x1="509.74" y1="568.50" x2="509.74" y2="572.80" stroke="#1e1e1e" stroke-width="1.3" stroke-linecap="butt"/>
<text x="509.94" y="586.90" font-size="13.6" text-anchor="middle" fill="#111" >16</text>
<line x1="536.10" y1="568.50" x2="536.10" y2="572.80" stroke="#1e1e1e" stroke-width="1.3" stroke-linecap="butt"/>
<text x="536.30" y="586.90" font-size="13.6" text-anchor="middle" fill="#111" >20</text>
<line x1="562.46" y1="568.50" x2="562.46" y2="572.80" stroke="#1e1e1e" stroke-width="1.3" stroke-linecap="butt"/>
<text x="562.66" y="586.90" font-size="13.6" text-anchor="middle" fill="#111" >24</text>
<line x1="588.82" y1="568.50" x2="588.82" y2="572.80" stroke="#1e1e1e" stroke-width="1.3" stroke-linecap="butt"/>
<text x="589.02" y="586.90" font-size="13.6" text-anchor="middle" fill="#111" >27</text>
<line x1="615.18" y1="568.50" x2="615.18" y2="572.80" stroke="#1e1e1e" stroke-width="1.3" stroke-linecap="butt"/>
<text x="615.38" y="586.90" font-size="13.6" text-anchor="middle" fill="#111" >30</text>
<line x1="641.54" y1="568.50" x2="641.54" y2="572.80" stroke="#1e1e1e" stroke-width="1.3" stroke-linecap="butt"/>
<text x="641.74" y="586.90" font-size="13.6" text-anchor="middle" fill="#111" >33</text>
<line x1="667.90" y1="568.50" x2="667.90" y2="572.80" stroke="#1e1e1e" stroke-width="1.3" stroke-linecap="butt"/>
<text x="668.10" y="586.90" font-size="13.6" text-anchor="middle" fill="#111" >36</text>
<line x1="694.26" y1="568.50" x2="694.26" y2="572.80" stroke="#1e1e1e" stroke-width="1.3" stroke-linecap="butt"/>
<text x="694.46" y="586.90" font-size="13.6" text-anchor="middle" fill="#111" >39</text>
<line x1="417.48" y1="568.50" x2="417.48" y2="570.70" stroke="#1e1e1e" stroke-width="1.3" stroke-linecap="butt"/>
<line x1="443.84" y1="568.50" x2="443.84" y2="570.70" stroke="#1e1e1e" stroke-width="1.3" stroke-linecap="butt"/>
<line x1="470.20" y1="568.50" x2="470.20" y2="570.70" stroke="#1e1e1e" stroke-width="1.3" stroke-linecap="butt"/>
<line x1="496.56" y1="568.50" x2="496.56" y2="570.70" stroke="#1e1e1e" stroke-width="1.3" stroke-linecap="butt"/>
<line x1="522.92" y1="568.50" x2="522.92" y2="570.70" stroke="#1e1e1e" stroke-width="1.3" stroke-linecap="butt"/>
<line x1="549.28" y1="568.50" x2="549.28" y2="570.70" stroke="#1e1e1e" stroke-width="1.3" stroke-linecap="butt"/>
<line x1="575.64" y1="568.50" x2="575.64" y2="570.70" stroke="#1e1e1e" stroke-width="1.3" stroke-linecap="butt"/>
<line x1="602.00" y1="568.50" x2="602.00" y2="570.70" stroke="#1e1e1e" stroke-width="1.3" stroke-linecap="butt"/>
<line x1="628.36" y1="568.50" x2="628.36" y2="570.70" stroke="#1e1e1e" stroke-width="1.3" stroke-linecap="butt"/>
<line x1="654.72" y1="568.50" x2="654.72" y2="570.70" stroke="#1e1e1e" stroke-width="1.3" stroke-linecap="butt"/>
<line x1="681.08" y1="568.50" x2="681.08" y2="570.70" stroke="#1e1e1e" stroke-width="1.3" stroke-linecap="butt"/>
<line x1="707.44" y1="568.50" x2="707.44" y2="570.70" stroke="#1e1e1e" stroke-width="1.3" stroke-linecap="butt"/>
<text x="550.20" y="604.80" font-size="14" text-anchor="middle" fill="#111" >Time (h)</text>
<g transform="translate(363.4,450) rotate(-90)"><text x="0" y="0" font-size="13.3" text-anchor="middle" fill="#111">Cytidine concentration (g/L)</text></g>
<rect x="393.90" y="568.26" width="7.20" height="0.24" fill="#aaaaaa" stroke="#2a2a2a" stroke-width="0.9"/>
<rect x="401.10" y="568.38" width="7.20" height="0.12" fill="#f89c9c" stroke="#2a2a2a" stroke-width="0.9"/>
<rect x="408.30" y="568.38" width="7.20" height="0.12" fill="#8cb5f1" stroke="#2a2a2a" stroke-width="0.9"/>
<rect x="420.26" y="567.55" width="7.20" height="0.95" fill="#aaaaaa" stroke="#2a2a2a" stroke-width="0.9"/>
<rect x="427.46" y="567.91" width="7.20" height="0.59" fill="#f89c9c" stroke="#2a2a2a" stroke-width="0.9"/>
<rect x="434.66" y="567.91" width="7.20" height="0.59" fill="#8cb5f1" stroke="#2a2a2a" stroke-width="0.9"/>
<rect x="446.62" y="566.13" width="7.20" height="2.37" fill="#aaaaaa" stroke="#2a2a2a" stroke-width="0.9"/>
<rect x="453.82" y="566.73" width="7.20" height="1.77" fill="#f89c9c" stroke="#2a2a2a" stroke-width="0.9"/>
<rect x="461.02" y="566.61" width="7.20" height="1.89" fill="#8cb5f1" stroke="#2a2a2a" stroke-width="0.9"/>
<rect x="472.98" y="564.24" width="7.20" height="4.26" fill="#aaaaaa" stroke="#2a2a2a" stroke-width="0.9"/>
<rect x="480.18" y="565.42" width="7.20" height="3.08" fill="#f89c9c" stroke="#2a2a2a" stroke-width="0.9"/>
<rect x="487.38" y="565.42" width="7.20" height="3.08" fill="#8cb5f1" stroke="#2a2a2a" stroke-width="0.9"/>
<rect x="499.34" y="562.82" width="7.20" height="5.68" fill="#aaaaaa" stroke="#2a2a2a" stroke-width="0.9"/>
<rect x="506.54" y="562.47" width="7.20" height="6.03" fill="#f89c9c" stroke="#2a2a2a" stroke-width="0.9"/>
<rect x="513.74" y="563.41" width="7.20" height="5.09" fill="#8cb5f1" stroke="#2a2a2a" stroke-width="0.9"/>
<rect x="525.70" y="561.05" width="7.20" height="7.45" fill="#aaaaaa" stroke="#2a2a2a" stroke-width="0.9"/>
<rect x="532.90" y="559.27" width="7.20" height="9.23" fill="#f89c9c" stroke="#2a2a2a" stroke-width="0.9"/>
<rect x="540.10" y="554.07" width="7.20" height="14.43" fill="#8cb5f1" stroke="#2a2a2a" stroke-width="0.9"/>
<rect x="552.06" y="557.26" width="7.20" height="11.24" fill="#aaaaaa" stroke="#2a2a2a" stroke-width="0.9"/>
<rect x="559.26" y="555.25" width="7.20" height="13.25" fill="#f89c9c" stroke="#2a2a2a" stroke-width="0.9"/>
<rect x="566.46" y="524.73" width="7.20" height="43.77" fill="#8cb5f1" stroke="#2a2a2a" stroke-width="0.9"/>
<line x1="570.06" y1="524.37" x2="570.06" y2="525.08" stroke="#333" stroke-width="0.8" stroke-linecap="butt"/>
<line x1="568.06" y1="524.37" x2="572.06" y2="524.37" stroke="#333" stroke-width="0.8" stroke-linecap="butt"/>
<line x1="568.06" y1="525.08" x2="572.06" y2="525.08" stroke="#333" stroke-width="0.8" stroke-linecap="butt"/>
<rect x="578.42" y="556.20" width="7.20" height="12.30" fill="#aaaaaa" stroke="#2a2a2a" stroke-width="0.9"/>
<rect x="585.62" y="554.07" width="7.20" height="14.43" fill="#f89c9c" stroke="#2a2a2a" stroke-width="0.9"/>
<rect x="592.82" y="491.61" width="7.20" height="76.89" fill="#8cb5f1" stroke="#2a2a2a" stroke-width="0.9"/>
<line x1="596.42" y1="491.25" x2="596.42" y2="491.96" stroke="#333" stroke-width="0.8" stroke-linecap="butt"/>
<line x1="594.42" y1="491.25" x2="598.42" y2="491.25" stroke="#333" stroke-width="0.8" stroke-linecap="butt"/>
<line x1="594.42" y1="491.96" x2="598.42" y2="491.96" stroke="#333" stroke-width="0.8" stroke-linecap="butt"/>
<rect x="604.78" y="554.30" width="7.20" height="14.20" fill="#aaaaaa" stroke="#2a2a2a" stroke-width="0.9"/>
<rect x="611.98" y="552.53" width="7.20" height="15.97" fill="#f89c9c" stroke="#2a2a2a" stroke-width="0.9"/>
<rect x="619.18" y="468.77" width="7.20" height="99.73" fill="#8cb5f1" stroke="#2a2a2a" stroke-width="0.9"/>
<line x1="622.78" y1="467.83" x2="622.78" y2="469.72" stroke="#333" stroke-width="0.8" stroke-linecap="butt"/>
<line x1="620.78" y1="467.83" x2="624.78" y2="467.83" stroke="#333" stroke-width="0.8" stroke-linecap="butt"/>
<line x1="620.78" y1="469.72" x2="624.78" y2="469.72" stroke="#333" stroke-width="0.8" stroke-linecap="butt"/>
<rect x="631.14" y="552.41" width="7.20" height="16.09" fill="#aaaaaa" stroke="#2a2a2a" stroke-width="0.9"/>
<rect x="638.34" y="550.52" width="7.20" height="17.98" fill="#f89c9c" stroke="#2a2a2a" stroke-width="0.9"/>
<rect x="645.54" y="423.58" width="7.20" height="144.92" fill="#8cb5f1" stroke="#2a2a2a" stroke-width="0.9"/>
<line x1="649.14" y1="422.87" x2="649.14" y2="424.29" stroke="#333" stroke-width="0.8" stroke-linecap="butt"/>
<line x1="647.14" y1="422.87" x2="651.14" y2="422.87" stroke="#333" stroke-width="0.8" stroke-linecap="butt"/>
<line x1="647.14" y1="424.29" x2="651.14" y2="424.29" stroke="#333" stroke-width="0.8" stroke-linecap="butt"/>
<rect x="657.50" y="551.46" width="7.20" height="17.04" fill="#aaaaaa" stroke="#2a2a2a" stroke-width="0.9"/>
<rect x="664.70" y="547.68" width="7.20" height="20.82" fill="#f89c9c" stroke="#2a2a2a" stroke-width="0.9"/>
<rect x="671.90" y="384.54" width="7.20" height="183.96" fill="#8cb5f1" stroke="#2a2a2a" stroke-width="0.9"/>
<line x1="675.50" y1="383.12" x2="675.50" y2="385.96" stroke="#333" stroke-width="0.8" stroke-linecap="butt"/>
<line x1="673.50" y1="383.12" x2="677.50" y2="383.12" stroke="#333" stroke-width="0.8" stroke-linecap="butt"/>
<line x1="673.50" y1="385.96" x2="677.50" y2="385.96" stroke="#333" stroke-width="0.8" stroke-linecap="butt"/>
<rect x="683.86" y="549.81" width="7.20" height="18.69" fill="#aaaaaa" stroke="#2a2a2a" stroke-width="0.9"/>
<rect x="691.06" y="546.26" width="7.20" height="22.24" fill="#f89c9c" stroke="#2a2a2a" stroke-width="0.9"/>
<rect x="698.26" y="352.96" width="7.20" height="215.54" fill="#8cb5f1" stroke="#2a2a2a" stroke-width="0.9"/>
<line x1="701.86" y1="350.59" x2="701.86" y2="355.32" stroke="#333" stroke-width="0.8" stroke-linecap="butt"/>
<line x1="699.86" y1="350.59" x2="703.86" y2="350.59" stroke="#333" stroke-width="0.8" stroke-linecap="butt"/>
<line x1="699.86" y1="355.32" x2="703.86" y2="355.32" stroke="#333" stroke-width="0.8" stroke-linecap="butt"/>
<rect x="452.5" y="334.5" width="123.2" height="46.9" fill="none" stroke="#a0a0a0" stroke-width="1"/>
<rect x="454.7" y="336.30" width="28.5" height="12.6" fill="#aaaaaa" stroke="#2a2a2a" stroke-width="1"/>
<text x="487.30" y="346.70" font-size="13.2" text-anchor="start" fill="#111" >K12</text>
<rect x="454.7" y="351.20" width="28.5" height="12.6" fill="#f89c9c" stroke="#2a2a2a" stroke-width="1"/>
<text x="487.30" y="361.60" font-size="13.2" text-anchor="start" fill="#111" >K12</text>
<path d="M511.07,361.29 L514.65,354.21 L518.23,361.29 Z" fill="none" stroke="#222" stroke-width="0.77" stroke-linejoin="miter"/>
<text x="519.53" y="361.60" font-size="13.2" text-anchor="start" fill="#111" font-style="italic">poxB</text>
<rect x="454.7" y="366.10" width="28.5" height="12.6" fill="#8cb5f1" stroke="#2a2a2a" stroke-width="1"/>
<text x="487.30" y="376.50" font-size="13.2" text-anchor="start" fill="#111" >K12</text>
<path d="M511.07,376.19 L514.65,369.11 L518.23,376.19 Z" fill="none" stroke="#222" stroke-width="0.77" stroke-linejoin="miter"/>
<text x="519.53" y="376.50" font-size="13.2" text-anchor="start" fill="#111" font-style="italic">poxB</text>
<path d="M547.70,376.19 L551.28,369.11 L554.85,376.19 Z" fill="none" stroke="#222" stroke-width="0.77" stroke-linejoin="miter"/>
<text x="556.16" y="376.50" font-size="13.2" text-anchor="start" fill="#111" font-style="italic">pta</text>
</svg></body></html>
